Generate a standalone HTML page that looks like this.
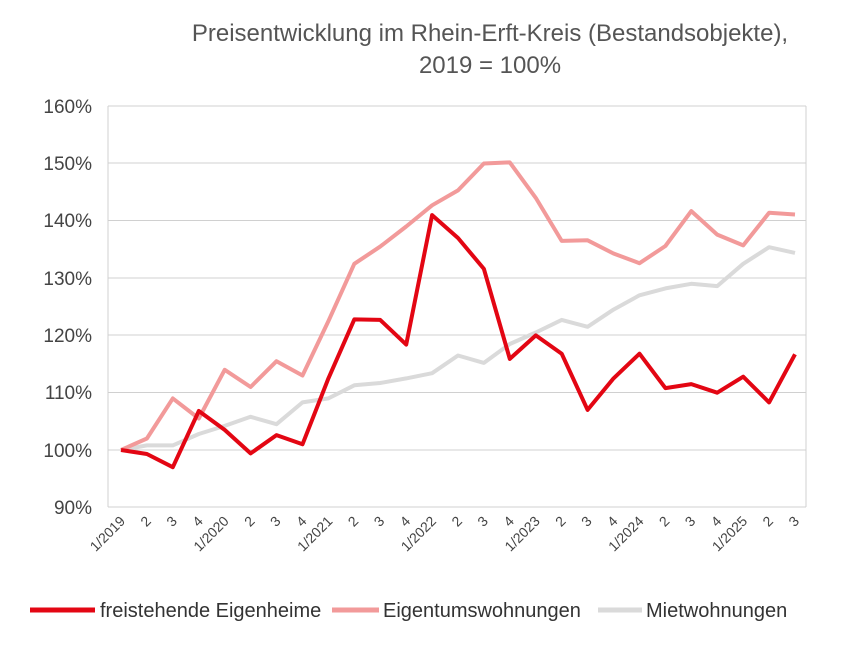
<!DOCTYPE html>
<html><head><meta charset="utf-8"><style>body{margin:0;background:#fff}</style></head><body>
<svg width="843" height="643" viewBox="0 0 843 643" xmlns="http://www.w3.org/2000/svg" font-family="Liberation Sans, sans-serif">
<rect width="843" height="643" fill="#fff"/>
<text x="490" y="41" text-anchor="middle" font-size="24" fill="#555">Preisentwicklung im Rhein-Erft-Kreis (Bestandsobjekte),</text>
<text x="490" y="73" text-anchor="middle" font-size="24" fill="#555">2019 = 100%</text>
<g stroke="#d0d0d0" stroke-width="1">
<line x1="108" x2="806" y1="106" y2="106"/><line x1="108" x2="806" y1="163" y2="163"/>
<line x1="108" x2="806" y1="220.5" y2="220.5"/><line x1="108" x2="806" y1="278" y2="278"/>
<line x1="108" x2="806" y1="335" y2="335"/><line x1="108" x2="806" y1="392.5" y2="392.5"/>
<line x1="108" x2="806" y1="450" y2="450"/><line x1="108" x2="806" y1="507" y2="507"/>
<line x1="108" x2="108" y1="106" y2="507"/><line x1="806" x2="806" y1="106" y2="507"/>
</g>
<g font-size="19" fill="#444" text-anchor="end">
<text x="92" y="113">160%</text><text x="92" y="170">150%</text><text x="92" y="227">140%</text>
<text x="92" y="285">130%</text><text x="92" y="342">120%</text><text x="92" y="399">110%</text>
<text x="92" y="457">100%</text><text x="92" y="514">90%</text>
</g>
<g id="xl" font-size="14" fill="#444" text-anchor="end"></g>
<polyline id="grey" fill="none" stroke="#dadada" stroke-width="4" stroke-linejoin="round"/>
<polyline id="pink" fill="none" stroke="#f29a9a" stroke-width="4" stroke-linejoin="round"/>
<polyline id="red" fill="none" stroke="#e30613" stroke-width="4" stroke-linejoin="round"/>
<line x1="30" x2="95" y1="610" y2="610" stroke="#e30613" stroke-width="5"/>
<text x="100" y="617" font-size="20" fill="#333">freistehende Eigenheime</text>
<line x1="332" x2="379" y1="610" y2="610" stroke="#f29a9a" stroke-width="5"/>
<text x="383" y="617" font-size="20" fill="#333">Eigentumswohnungen</text>
<line x1="598" x2="642" y1="610" y2="610" stroke="#dadada" stroke-width="5"/>
<text x="646" y="617" font-size="20" fill="#333">Mietwohnungen</text>
</svg>
<script>
var red=[100,99.3,97,106.8,103.5,99.4,102.6,101,112.5,122.8,122.7,118.4,141,137,131.6,115.9,120,116.8,107,112.5,116.8,110.8,111.5,110,112.8,108.3,116.7];
var pink=[100,102,109,105.5,114,111,115.5,113,122.5,132.5,135.5,139,142.7,145.3,150,150.2,144,136.5,136.6,134.3,132.6,135.6,141.7,137.6,135.7,141.4,141.1];
var grey=[100,100.8,100.8,102.8,104.2,105.8,104.5,108.3,109,111.3,111.7,112.5,113.4,116.5,115.2,118.5,120.5,122.7,121.5,124.5,127,128.2,129,128.6,132.5,135.4,134.4];
function X(i){return 121+i*674/26}function Y(v){return 450-(v-100)*5.73}
function pts(a){return a.map(function(v,i){return X(i).toFixed(1)+","+Y(v).toFixed(1)}).join(" ")}
document.getElementById("red").setAttribute("points",pts(red));
document.getElementById("pink").setAttribute("points",pts(pink));
document.getElementById("grey").setAttribute("points",pts(grey));
var g=document.getElementById("xl"),ns="http://www.w3.org/2000/svg";
for(var i=0;i<27;i++){var q=i%4,yr=2019+Math.floor(i/4);var s=q==0?"1/"+yr:""+(q+1);
var t=document.createElementNS(ns,"text");var x=X(i)+5,y=522;t.setAttribute("x",x);t.setAttribute("y",y);
t.setAttribute("transform","rotate(-45 "+x+" "+y+")");t.textContent=s;g.appendChild(t);}
</script>
</body></html>
